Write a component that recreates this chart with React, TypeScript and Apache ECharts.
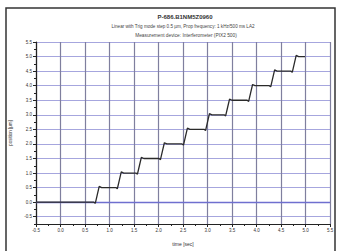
import React, { useEffect, useRef } from "react";
import * as echarts from "echarts";

const titleLines = [
  "P-686.B1NM5Z0960",
  "Linear with Trig mode step 0.5 µm, Prop frequency: 1 kHz/500 ms LA2",
  "Measurement device: Interferometer (PIX2 500)",
];
const xName = "time [sec]";
const yName = "position [µm]";

const xMin = -0.5;
const xMax = 5.5;
const yMin = -0.75;
const yMax = 5.5;
const yMajorTicks = [-0.5, 0, 0.5, 1, 1.5, 2, 2.5, 3, 3.5, 4, 4.5, 5, 5.5];

// measured position trace [time s, position µm]
const trace: [number, number][] = [
  [-0.5, 0],
  [0.68, 0], [0.71, -0.04], [0.75, 0.25], [0.79, 0.54], [0.84, 0.5],
  [1.13, 0.5], [1.16, 0.46], [1.2, 0.75], [1.24, 1.04], [1.29, 1.0],
  [1.54, 1.0], [1.57, 0.96], [1.61, 1.25], [1.65, 1.54], [1.7, 1.5],
  [2.01, 1.5], [2.04, 1.46], [2.08, 1.75], [2.12, 2.04], [2.17, 2.0],
  [2.48, 2.0], [2.51, 1.96], [2.55, 2.25], [2.59, 2.54], [2.64, 2.5],
  [2.93, 2.5], [2.96, 2.46], [3.0, 2.75], [3.04, 3.04], [3.09, 3.0],
  [3.34, 3.0], [3.37, 2.96], [3.41, 3.25], [3.45, 3.54], [3.5, 3.5],
  [3.81, 3.5], [3.84, 3.46], [3.88, 3.75], [3.92, 4.04], [3.97, 4.0],
  [4.26, 4.0], [4.29, 3.96], [4.33, 4.25], [4.37, 4.54], [4.42, 4.5],
  [4.7, 4.5], [4.73, 4.46], [4.77, 4.75], [4.81, 5.04], [4.86, 5.0],
  [4.99, 5.0],
];

const FONT = "Liberation Sans, Arial, sans-serif";

export default function App() {
  const ref = useRef<HTMLDivElement>(null);
  useEffect(() => {
    if (!ref.current) return;
    const chart = echarts.init(ref.current, undefined, { renderer: "svg" });
    chart.setOption({
      animation: false,
      backgroundColor: "#ffffff",
      grid: { left: 36, right: 11, top: 42, bottom: 25, containLabel: false },
      graphic: [
        {
          type: "rect",
          shape: { x: 6, y: 8, width: 329, height: 260 },
          style: { fill: "none", stroke: "#333", lineWidth: 1.5 },
          silent: true,
        },
        {
          type: "text",
          x: 185,
          y: 17,
          style: { text: titleLines[0], font: `bold 6px ${FONT}`, fill: "#333", align: "center", verticalAlign: "middle" },
        },
        {
          type: "text",
          x: 183,
          y: 26,
          style: { text: titleLines[1], font: `4.6px ${FONT}`, fill: "#444", align: "center", verticalAlign: "middle" },
        },
        {
          type: "text",
          x: 186,
          y: 35,
          style: { text: titleLines[2], font: `4.8px ${FONT}`, fill: "#444", align: "center", verticalAlign: "middle" },
        },
      ],
      xAxis: {
        type: "value",
        min: xMin,
        max: xMax,
        interval: 0.5,
        name: xName,
        nameLocation: "middle",
        nameGap: 17,
        nameTextStyle: { fontSize: 5, color: "#333", fontFamily: FONT },
        axisLine: { show: true, onZero: false, lineStyle: { color: "#222", width: 1.2 } },
        axisTick: { show: true, length: 3, lineStyle: { color: "#222" } },
        minorTick: { show: true, splitNumber: 2, length: 2, lineStyle: { color: "#222" } },
        axisLabel: {
          fontSize: 4.5,
          color: "#333",
          fontFamily: FONT,
          margin: 4,
          formatter: (v: number) => v.toFixed(1),
        },
        splitLine: { show: true, lineStyle: { color: "#7f7f9e", width: 1.2 } },
      },
      yAxis: [
        {
          type: "value",
          position: "left",
          min: yMin,
          max: yMax,
          interval: 0.25,
          name: yName,
          nameLocation: "middle",
          nameGap: 20,
          nameTextStyle: { fontSize: 4.5, color: "#333", fontFamily: FONT },
          axisLine: { show: true, onZero: false, lineStyle: { color: "#222", width: 1.2 } },
          axisTick: { show: true, length: 3, customValues: yMajorTicks, lineStyle: { color: "#222" } },
          axisLabel: {
            fontSize: 4.5,
            color: "#333",
            fontFamily: FONT,
            margin: 4,
            customValues: yMajorTicks,
            formatter: (v: number) => v.toFixed(1),
          },
          splitLine: { show: true, lineStyle: { color: "#a6a6de", width: 1.1 } },
        },
        {
          type: "value",
          position: "left",
          min: yMin,
          max: yMax,
          interval: 0.25,
          axisLine: { show: false, onZero: false },
          axisTick: { show: true, length: 2, lineStyle: { color: "#222" } },
          axisLabel: { show: false },
          splitLine: { show: false },
        },
      ],
      series: [
        {
          type: "line",
          data: trace,
          yAxisIndex: 0,
          showSymbol: false,
          symbol: "none",
          lineStyle: { color: "#2a2a2a", width: 1.3 },
          markLine: {
            silent: true,
            symbol: "none",
            label: { show: false },
            lineStyle: { color: "#6f6fcf", width: 1.4, type: "solid" },
            data: [{ yAxis: 0 }],
          },
          z: 5,
        },
      ],
    });
    return () => chart.dispose();
  }, []);
  return <div ref={ref} style={{ position: "absolute", left: 0, top: 0, width: 341, height: 251 }} />;
}
